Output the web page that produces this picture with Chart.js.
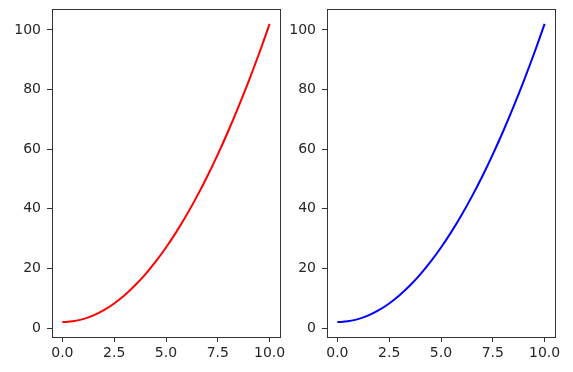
<!DOCTYPE html>
<html>
<head>
<meta charset="utf-8">
<script src="https://cdn.jsdelivr.net/npm/chart.js@4.4.0/dist/chart.umd.min.js"></script>
<style>
  body { margin: 0; background: #fff; }
  #wrap { position: relative; width: 573px; height: 372px; }
  canvas { position: absolute; top: 0; }
</style>
</head>
<body>
<div id="wrap">
  <canvas id="chart-rojo" width="286" height="372" style="left:0"></canvas>
  <canvas id="chart-azul" width="298" height="372" style="left:275px"></canvas>
</div>
<script>
// === Datos (x de 0 a 10) ===
const xValores = [0, 0.5, 1, 1.5, 2, 2.5, 3, 3.5, 4, 4.5, 5, 5.5, 6, 6.5, 7, 7.5, 8, 8.5, 9, 9.5, 10];
const yValores = [2, 2.25, 3, 4.25, 6, 8.25, 11, 14.25, 18, 22.25, 27, 32.25, 38, 44.25, 51, 58.25, 66, 74.25, 83, 92.25, 102];
const xTicks = [0, 2.5, 5, 7.5, 10];
const yTicks = [0, 20, 40, 60, 80, 100];

const fuente = { family: "'DejaVu Sans'", size: 14 };

// caja alrededor del area del grafico (estilo matplotlib)
const marcoPlugin = {
  id: 'marco',
  afterDraw(chart) {
    const { ctx, chartArea: a } = chart;
    ctx.save();
    ctx.strokeStyle = '#333';
    ctx.lineWidth = 1;
    ctx.strokeRect(Math.round(a.left) + 0.5, Math.round(a.top) + 0.5,
      Math.round(a.right - a.left), Math.round(a.bottom - a.top));
    ctx.restore();
  }
};

function crearGrafico(id, color, padRight) {
  const ctx = document.getElementById(id).getContext("2d");
  return new Chart(ctx, {
    type: 'line',
    data: {
      datasets: [{
        data: xValores.map((x, i) => ({ x: x, y: yValores[i] })),
        borderColor: color,
        borderWidth: 2,
        pointRadius: 0,
        tension: 0.4,
        fill: false
      }]
    },
    options: {
      responsive: false,
      animation: false,
      layout: { padding: { top: 9, right: padRight, left: 0, bottom: 0 } },
      plugins: { legend: { display: false }, tooltip: { enabled: false } },
      scales: {
        x: {
          type: 'linear',
          min: -0.5,
          max: 10.5,
          afterBuildTicks: s => { s.ticks = xTicks.map(v => ({ value: v })); },
          afterFit: s => { s.height = 35; s.paddingLeft = 0; s.paddingRight = 0; },
          grid: { drawOnChartArea: false, drawTicks: true, tickLength: 5, tickColor: '#333' },
          border: { display: false },
          ticks: { font: fuente, color: '#262626', padding: 3, maxRotation: 0,
                   callback: v => v.toFixed(1) }
        },
        y: {
          min: -3,
          max: 107,
          afterBuildTicks: s => { s.ticks = yTicks.map(v => ({ value: v })); },
          afterFit: s => { s.width = 52; s.paddingTop = 0; s.paddingBottom = 0; },
          grid: { drawOnChartArea: false, drawTicks: true, tickLength: 5, tickColor: '#333' },
          border: { display: false },
          ticks: { font: fuente, color: '#262626', padding: 6,
                   callback: v => String(v) }
        }
      }
    },
    plugins: [marcoPlugin]
  });
}

crearGrafico("chart-rojo", '#ff0000', 6);
crearGrafico("chart-azul", '#0000ff', 18);
</script>
</body>
</html>
